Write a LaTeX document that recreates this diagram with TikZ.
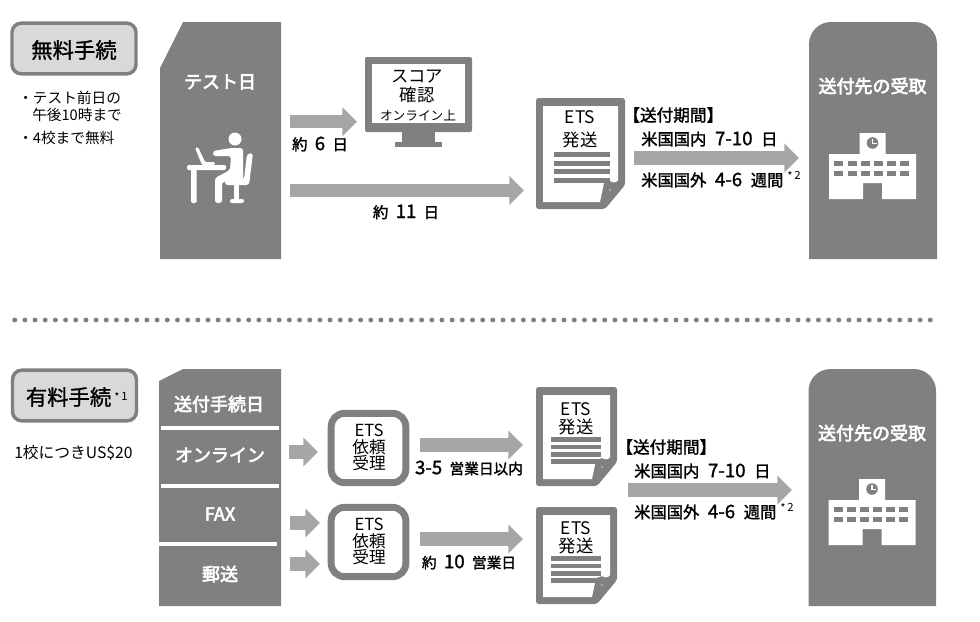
\documentclass[tikz,border=0pt]{standalone}
\usepackage{fontspec}
\setmainfont{Noto Sans CJK JP}
\usetikzlibrary{arrows.meta}
\definecolor{panel}{HTML}{808080}
\definecolor{arrowgray}{HTML}{A6A6A6}
\definecolor{tagfill}{HTML}{D9D9D9}
\newcommand{\fs}[1]{\fontsize{#1}{#1}\selectfont}
\newcommand{\gapa}{\hspace{5.5pt}}
\newcommand{\gapb}{\hspace{6.5pt}}
\newcommand{\dg}[1]{{\fs{14pt}#1}}
\newcommand{\starmark}[1]{\raisebox{-1.2pt}{*}\,#1}
% outline-thickened text: #1 stroke width in bp, #2 text
\newcommand{\emb}[2]{\special{pdf:code q 2 Tr #1 w}#2\special{pdf:code Q}}
\newcommand{\wht}[1]{\emb{0.45}{#1}}
\newcommand{\lab}[1]{\emb{0.2}{#1}}
\tikzset{
  x=0.75pt,y=-0.75pt,
  panelfill/.style={fill=panel,draw=none},
  whitetext/.style={text=white,font=\fs{13.5pt},inner sep=0,anchor=center},
  boldtext/.style={text=black,font=\fs{11.5pt},inner sep=0,anchor=center},
  periodtext/.style={text=black,font=\fs{12.5pt},inner sep=0,anchor=west},
  smalltext/.style={text=black,font=\fs{11pt},inner sep=0,anchor=west},
  doctext/.style={text=black,font=\fs{13pt},inner sep=0,anchor=center,align=center},
  notemark/.style={text=black,font=\fs{8.5pt},inner sep=0,anchor=west},
  tagbox/.style={draw=panel,fill=tagfill,line width=2.6pt,rounded corners=7pt,minimum width=93pt,minimum height=38pt,anchor=center},
  reqbox/.style={draw=panel,fill=white,line width=5.2pt,rounded corners=10pt,minimum width=56pt,minimum height=52pt},
  blockarrow/.style={draw=arrowgray,line width=10pt,
    -{Triangle[length=11pt,width=21pt,fill=arrowgray]}},
  divider/.style={draw=white,line width=3pt},
  iconwhite/.style={fill=white,draw=none},
  docline/.style={fill=panel,draw=none},
}
% document icon: #1=x left, #2=y top, #3=x right, #4=y bottom
\newcommand{\docicon}[4]{%
  \fill[panel,rounded corners=2pt] (#1,#2) -- (#3,#2) -- (#3,#4-24) -- (#3-20,#4) -- (#1,#4) -- cycle;
  \fill[white] (#1+7,#2+8) -- (#3-7,#2+8) -- (#3-7,#4-29) .. controls (#3-9,#4-26) and (#3-12,#4-26) .. (#3-15,#4-28) -- (#3-21,#4-26) -- (#3-25,#4-7) -- (#1+7,#4-7) -- cycle;
  \fill[white!70!panel] (#3-15,#4-19) circle[radius=0.8];
}
% school icon centred at x=#1, top y=#2
\newcommand{\schoolicon}[2]{%
  \begin{scope}[shift={(#1,#2)}]
    \fill[white] (-13,0) -- (13,0) -- (13,21) -- (43.5,21) -- (43.5,66) -- (9.5,66) -- (9.5,50) -- (-9.5,50) -- (-9.5,66) -- (-43.5,66) -- (-43.5,21) -- (-13,21) -- cycle;
    \fill[panel] (0,10) circle[radius=5.8];
    \draw[white,line width=0.8pt] (0,6) -- (0,10.5) -- (4,10.5);
    \foreach \cx in {-38.5,-25,-12,1,14,27}{
      \fill[panel] (\cx,28) rectangle ++(9,5);
      \fill[panel] (\cx,38) rectangle ++(9,5);
    }
  \end{scope}%
}
\begin{document}
\begin{tikzpicture}
\useasboundingbox (0,0) rectangle (980,621);
\fill[white] (0,0) rectangle (980,621);

% ---- tags
\node[tagbox] (freetag) at (74,48.5) {};
\node[text=black,font=\fs{16pt},inner sep=0] (freetagtext) at (74,50) {\emb{0.2}{無料手続}};
\node[tagbox] (paidtag) at (74.5,395.5) {};
\node[text=black,font=\fs{16pt},inner sep=0,anchor=east] (paidtagtext) at (111.5,397) {\emb{0.2}{有料手続}};
\node[notemark] (paidnote) at (114,397) {\starmark{1}};

% ---- left notes
\node[smalltext] (n0) at (18,98) {・テスト前日の};
\node[smalltext] (n1) at (32,115) {午後10時まで};
\node[smalltext] (n2) at (18,138) {・4校まで無料};
\node[smalltext,font=\fs{11.8pt}] (n3) at (14,453) {1校につきUS\$20};

% ---- test-day panel
\fill[panelfill] (183,22) -- (281,22) -- (281,259) -- (160,259) -- (160,68) -- cycle;
\node[whitetext] (testday) at (220,82) {\wht{テスト日}};
% person at desk
\begin{scope}
  \fill[iconwhite] (235,139) circle[radius=6.5];
  \fill[iconwhite,rounded corners=1pt] (187,165) rectangle (226,170);
  \fill[iconwhite,rounded corners=1pt] (191,168) rectangle (196.5,203);
  \fill[iconwhite,rounded corners=2pt] (213,151) -- (231,148) -- (243,148) -- (243,180) -- (222,182) -- (222,203) -- (215,203) -- (215,178) -- (230,170) -- (231,156) -- (213,156) -- cycle;
  \fill[iconwhite,rounded corners=1pt] (195,148) -- (198,147) -- (205,162) -- (215,162) -- (215,165) -- (202,165) -- cycle;
  \fill[iconwhite,rounded corners=2pt] (225,179) -- (244,179) -- (247,154) -- (253,153) -- (249,185) -- (225,185) -- cycle;
  \fill[iconwhite] (234,185) rectangle (239,200);
  \fill[iconwhite,rounded corners=1.5pt] (230,199) rectangle (244,203);
\end{scope}

% ---- first row arrows
\coordinate (a1s) at (290,121.7); \coordinate (a1e) at (357,121.7);
\draw[blockarrow] (a1s) -- (a1e);
\node[boldtext] (d6) at (320,144) {\lab{約\gapa\dg{6}\gapa 日}};
\coordinate (a2s) at (290,190.5); \coordinate (a2e) at (524,190.5);
\draw[blockarrow] (a2s) -- (a2e);
\node[boldtext] (d11) at (406,212) {\lab{約\gapa\dg{11}\gapa 日}};

% ---- monitor
\fill[panel,rounded corners=1.5pt] (365,57) rectangle (472,132);
\fill[white] (372,64) rectangle (465,123);
\fill[panel] (402,132) rectangle (435,142);
\fill[panel] (395,142) rectangle (442,147);
\node[doctext] (score) at (417,77) {スコア};
\node[doctext] (kakunin) at (417,95) {確認};
\node[text=black,font=\fs{9.5pt},inner sep=0] (online) at (418,116) {オンライン上};

% ---- first doc
\docicon{536}{98}{625}{209}
\foreach \ly in {152,160.5,169,178}{\fill[docline] (554,\ly) rectangle (610,\ly+5);}
\node[doctext] (ets1) at (580,117) {ETS};
\node[doctext] (hs1) at (580,140) {発送};

% ---- period 1
\node[periodtext] (p1) at (623,115) {\lab{【送付期間】}};
\node[boldtext,font=\fs{12.2pt},anchor=west] (us1) at (641,139) {\lab{米国国内\gapb\dg{7-10}\gapb 日}};
\coordinate (a3s) at (634,158); \coordinate (a3e) at (799,158);
\draw[blockarrow] (a3s) -- (a3e);
\node[boldtext,font=\fs{12.2pt},anchor=west] (os1) at (641,180) {\lab{米国国外\gapb\dg{4-6}\gapb 週間}};
\node[notemark] (star2) at (787,176) {\starmark{2}};

% ---- recipient 1
\fill[panelfill] (809,259) -- (809,44) arc[start angle=180,end angle=270,radius=22] -- (915,22) arc[start angle=270,end angle=360,radius=22] -- (937,259) -- cycle;
\node[whitetext] (rcv1) at (872.5,86) {\wht{送付先の受取}};
\schoolicon{872.5}{133}

% ---- divider dots
\coordinate (dots) at (14.7,320); \coordinate (dote) at (930.5,320);
\draw[panel,line width=3.7pt,line cap=round,dash pattern=on 0pt off 7.63pt] (dots) -- (dote);

% ---- paid panel
\fill[panelfill] (183,369) -- (281,369) -- (281,606) -- (159,606) -- (159,381) -- cycle;
\coordinate (l1a) at (161,428); \coordinate (l1b) at (279,428);
\coordinate (l2a) at (161,486); \coordinate (l2b) at (279,486);
\coordinate (l3a) at (159,544); \coordinate (l3b) at (277,544);
\draw[divider] (l1a) -- (l1b);
\draw[divider] (l2a) -- (l2b);
\draw[divider] (l3a) -- (l3b);
\node[whitetext] (m1) at (219,404) {\wht{送付手続日}};
\node[whitetext] (m2) at (220,455) {\wht{オンライン}};
\node[whitetext] (m3) at (220,514) {\wht{FAX}};
\node[whitetext] (m4) at (220,574) {\wht{郵送}};

% ---- small arrows
\coordinate (b1s) at (289,452); \coordinate (b1e) at (318,452);
\coordinate (b2s) at (290,523); \coordinate (b2e) at (320,523);
\coordinate (b3s) at (290,564); \coordinate (b3e) at (320,564);
\draw[blockarrow] (b1s) -- (b1e);
\draw[blockarrow] (b2s) -- (b2e);
\draw[blockarrow] (b3s) -- (b3e);

% ---- ETS request boxes
\node[reqbox] (req1) at (368.5,448) {};
\node[doctext,font=\fs{12.5pt}] (req1t) at (369,447.5) {ETS\\依頼\\受理};
\node[reqbox] (req2) at (368.5,542) {};
\node[doctext,font=\fs{12.5pt}] (req2t) at (369,541.5) {ETS\\依頼\\受理};

% ---- middle arrows
\coordinate (c1s) at (420,445); \coordinate (c1e) at (523,445);
\coordinate (c2s) at (420,539); \coordinate (c2e) at (523,539);
\draw[blockarrow] (c1s) -- (c1e);
\draw[blockarrow] (c2s) -- (c2e);
\node[boldtext,font=\fs{11pt}] (t1) at (469,468) {\lab{\dg{3-5}\gapa 営業日以内}};
\node[boldtext,font=\fs{11pt}] (t2) at (469,562) {\lab{約\gapa\dg{10}\gapa 営業日}};

% ---- paid docs
\docicon{536}{387}{617}{486}
\foreach \ly in {437,444.5,452,459}{\fill[docline] (551,\ly) rectangle (601,\ly+4.7);}
\node[doctext] (ets2) at (576,409) {ETS};
\node[doctext] (hs2) at (576,427) {発送};
\docicon{536}{507}{617}{604}
\foreach \ly in {556,563.5,571,578}{\fill[docline] (551,\ly) rectangle (601,\ly+4.7);}
\node[doctext] (ets3) at (576,528) {ETS};
\node[doctext] (hs3) at (576,546) {発送};

% ---- period 2
\node[periodtext] (p2) at (616,447) {\lab{【送付期間】}};
\node[boldtext,font=\fs{12.2pt},anchor=west] (us2) at (634,471) {\lab{米国国内\gapb\dg{7-10}\gapb 日}};
\coordinate (a4s) at (628,490); \coordinate (a4e) at (792,490);
\draw[blockarrow] (a4s) -- (a4e);
\node[boldtext,font=\fs{12.2pt},anchor=west] (os2) at (634,512) {\lab{米国国外\gapb\dg{4-6}\gapb 週間}};
\node[notemark] (star3) at (780,508) {\starmark{2}};

% ---- recipient 2
\fill[panelfill] (808.5,606) -- (808.5,391) arc[start angle=180,end angle=270,radius=22] -- (914,369) arc[start angle=270,end angle=360,radius=22] -- (936,606) -- cycle;
\node[whitetext] (rcv2) at (872,433) {\wht{送付先の受取}};
\schoolicon{872}{479}
\end{tikzpicture}
\end{document}
